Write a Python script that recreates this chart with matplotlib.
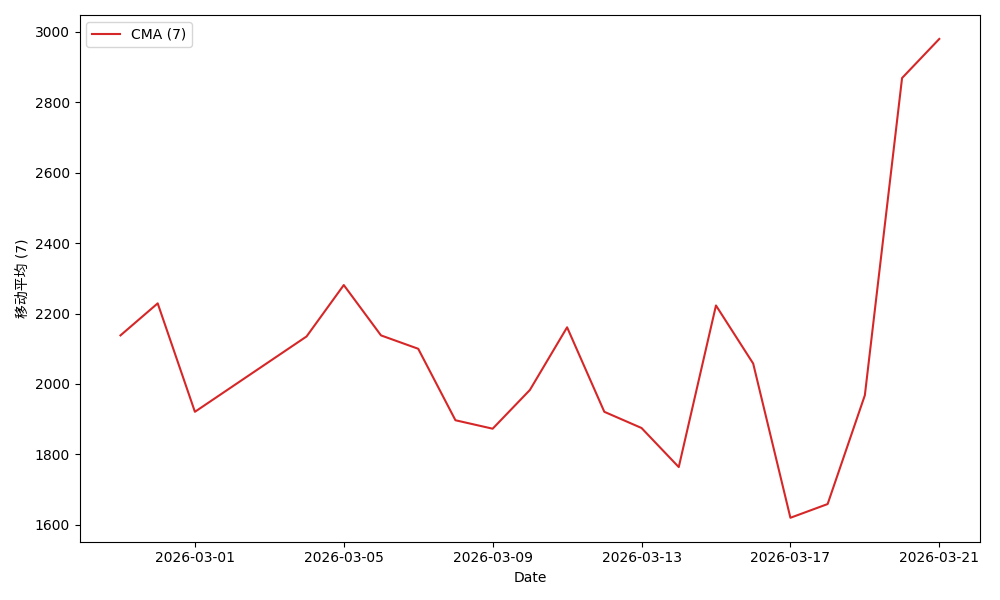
import matplotlib
matplotlib.use("Agg")
import matplotlib.pyplot as plt
import pandas as pd

dates = ["2026-02-27", "2026-02-28", "2026-03-01", "2026-03-04", "2026-03-05",
         "2026-03-06", "2026-03-07", "2026-03-08", "2026-03-09", "2026-03-10",
         "2026-03-11", "2026-03-12", "2026-03-13", "2026-03-14", "2026-03-15",
         "2026-03-16", "2026-03-17", "2026-03-18", "2026-03-19", "2026-03-20",
         "2026-03-21"]
cma_values = [2138, 2229, 1921, 2135, 2281,
              2138, 2100, 1897, 1873, 1983,
              2161, 1921, 1875, 1764, 2223,
              2058, 1620, 1659, 1968, 2869,
              2980]
series_label = "CMA (7)"
x_label = "Date"
y_label = "移动平均 (7)"

x = pd.to_datetime(dates)

fig, ax = plt.subplots(figsize=(10, 6), dpi=100)
ax.plot(x, cma_values, color="#d62728", linewidth=1.5, label=series_label)
ax.set_xlabel(x_label)
ax.set_ylabel(y_label, family=["DejaVu Sans", "Noto Sans CJK SC"])
ax.legend(loc="upper left")
fig.tight_layout()
fig.savefig("out.png")
